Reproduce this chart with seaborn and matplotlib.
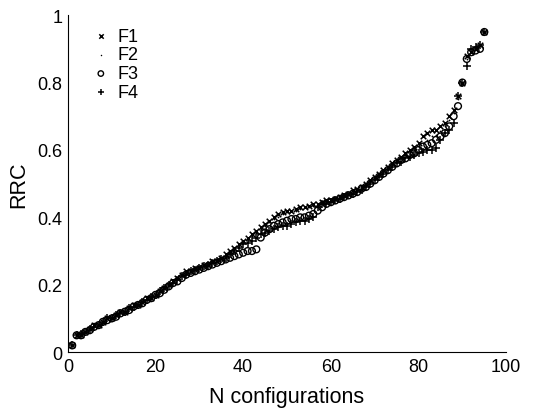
import matplotlib
matplotlib.use("Agg")
import matplotlib.pyplot as plt
import seaborn as sns
import pandas as pd

F1 = [0.02,0.05,0.05,0.06,0.07,0.08,0.08,0.09,0.10,0.10,
      0.11,0.12,0.12,0.13,0.14,0.14,0.15,0.16,0.16,0.17,
      0.18,0.19,0.20,0.21,0.22,0.23,0.24,0.24,0.25,0.25,
      0.26,0.26,0.27,0.27,0.28,0.29,0.30,0.31,0.32,0.33,
      0.34,0.35,0.36,0.37,0.38,0.39,0.40,0.41,0.415,0.42,
      0.42,0.425,0.43,0.43,0.435,0.44,0.44,0.445,0.45,0.45,
      0.455,0.46,0.465,0.47,0.48,0.485,0.49,0.50,0.51,0.52,
      0.53,0.54,0.55,0.56,0.57,0.58,0.59,0.60,0.61,0.62,
      0.64,0.65,0.66,0.66,0.67,0.68,0.70,0.72,0.76,0.80,
      0.88,0.89,0.90,0.91,0.95]
F2 = [0.02,0.05,0.05,0.06,0.07,0.08,0.08,0.09,0.10,0.10,
      0.11,0.115,0.12,0.13,0.135,0.14,0.15,0.155,0.16,0.17,
      0.18,0.19,0.20,0.21,0.215,0.225,0.235,0.24,0.245,0.25,
      0.255,0.26,0.265,0.27,0.28,0.285,0.295,0.305,0.315,0.325,
      0.335,0.345,0.355,0.365,0.375,0.385,0.395,0.40,0.41,0.415,
      0.42,0.42,0.425,0.43,0.43,0.435,0.44,0.44,0.445,0.45,
      0.45,0.455,0.46,0.465,0.47,0.48,0.485,0.495,0.505,0.515,
      0.525,0.535,0.545,0.555,0.565,0.575,0.585,0.595,0.60,0.61,
      0.62,0.63,0.64,0.645,0.655,0.67,0.69,0.71,0.75,0.80,
      0.87,0.89,0.90,0.91,0.95]
F3 = [0.02,0.05,0.05,0.06,0.065,0.075,0.08,0.09,0.095,0.10,
      0.105,0.115,0.12,0.125,0.135,0.14,0.145,0.155,0.16,0.17,
      0.175,0.185,0.195,0.205,0.21,0.22,0.23,0.235,0.24,0.245,
      0.25,0.255,0.26,0.265,0.27,0.275,0.28,0.285,0.29,0.295,
      0.30,0.30,0.305,0.34,0.355,0.365,0.375,0.38,0.385,0.39,
      0.395,0.395,0.40,0.40,0.405,0.41,0.42,0.43,0.44,0.445,
      0.45,0.455,0.46,0.465,0.47,0.475,0.485,0.49,0.50,0.51,
      0.52,0.53,0.54,0.55,0.56,0.57,0.575,0.585,0.59,0.60,
      0.61,0.615,0.62,0.63,0.64,0.65,0.67,0.70,0.73,0.80,
      0.87,0.89,0.895,0.90,0.95]
F4 = [0.02,0.05,0.055,0.06,0.07,0.075,0.08,0.09,0.10,0.10,
      0.11,0.115,0.12,0.13,0.135,0.14,0.15,0.155,0.165,0.17,
      0.18,0.19,0.20,0.205,0.215,0.225,0.23,0.24,0.245,0.25,
      0.255,0.26,0.265,0.27,0.275,0.28,0.29,0.30,0.31,0.32,
      0.325,0.33,0.34,0.35,0.355,0.36,0.365,0.37,0.375,0.375,
      0.38,0.385,0.39,0.39,0.395,0.40,0.43,0.44,0.44,0.445,
      0.45,0.455,0.46,0.465,0.47,0.475,0.48,0.49,0.50,0.51,
      0.52,0.53,0.54,0.55,0.56,0.565,0.575,0.58,0.585,0.59,
      0.595,0.60,0.60,0.605,0.63,0.65,0.66,0.68,0.76,0.80,
      0.85,0.90,0.905,0.91,0.95]

series_names = ["F1", "F2", "F3", "F4"]
x_ticks = [0, 20, 40, 60, 80, 100]
y_ticks = [0, 0.2, 0.4, 0.6, 0.8, 1]
y_tick_labels = ["0", "0.2", "0.4", "0.6", "0.8", "1"]

sns.set_style("white")
plt.rcParams["font.family"] = ["Liberation Sans", "DejaVu Sans"]
plt.rcParams["text.color"] = "black"
plt.rcParams["axes.labelcolor"] = "black"
plt.rcParams["xtick.color"] = "black"
plt.rcParams["ytick.color"] = "black"

fig = plt.figure(figsize=(5.34, 4.14), dpi=100)
ax = fig.add_axes([0.127, 0.147, 0.821, 0.814])

styles = {
    "F1": dict(marker="x", s=16, color="black", linewidth=1.1),
    "F2": dict(marker=".", s=7, color="black", linewidth=0),
    "F3": dict(marker="o", s=24, facecolors="none", edgecolors="black", linewidth=1.0),
    "F4": dict(marker="+", s=28, color="black", linewidth=1.1),
}
data = {"F1": F1, "F2": F2, "F3": F3, "F4": F4}
handles = []
for name in series_names:
    vals = data[name]
    df = pd.DataFrame({"n": list(range(1, len(vals) + 1)), "rrc": vals})
    before = len(ax.collections)
    sns.scatterplot(data=df, x="n", y="rrc", ax=ax, legend=False, **styles[name])
    handles.append(ax.collections[before])

leg = ax.legend(handles, series_names, loc="upper left", bbox_to_anchor=(0.03, 0.995),
                frameon=False, fontsize=13, handlelength=1.0, handletextpad=0.45,
                labelspacing=0.1, borderaxespad=0.2, markerscale=0.8)
for t in leg.get_texts():
    t.set_color("black")

ax.set_xlim(0, 100)
ax.set_ylim(0, 1)
ax.set_xticks(x_ticks)
ax.set_yticks(y_ticks)
ax.set_yticklabels(y_tick_labels)
ax.tick_params(direction="in", length=4, width=0.8, labelsize=13, colors="black", pad=4)
for side in ["top", "right"]:
    ax.spines[side].set_visible(False)
for side in ["left", "bottom"]:
    ax.spines[side].set_color("black")
    ax.spines[side].set_linewidth(0.8)
ax.set_xlabel("N configurations", fontsize=15.5, labelpad=8, color="black")
ax.set_ylabel("RRC", fontsize=15.5, labelpad=6, color="black")

fig.savefig("out.png", dpi=100)
